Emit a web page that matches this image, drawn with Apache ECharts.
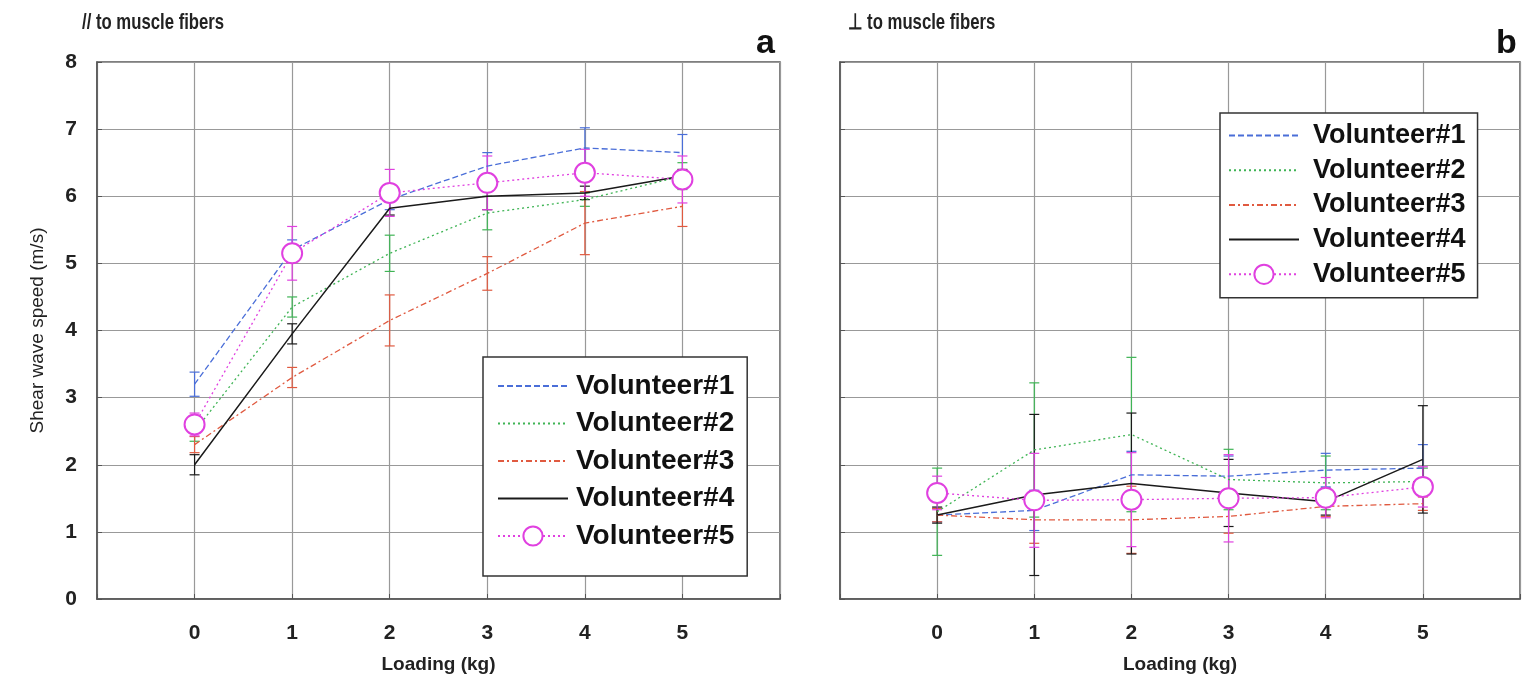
<!DOCTYPE html>
<html><head><meta charset="utf-8">
<script src="https://cdn.jsdelivr.net/npm/echarts@6/dist/echarts.min.js"></script>
<style>html,body{margin:0;padding:0;background:#fff}#c{width:1524px;height:679px}</style>
</head><body><div id="c"></div>
<script>
const loads = [0, 1, 2, 3, 4, 5];
const names = ['Volunteer#1', 'Volunteer#2', 'Volunteer#3', 'Volunteer#4', 'Volunteer#5'];
const yTicks = [0, 1, 2, 3, 4, 5, 6, 7, 8];
// Panel a: parallel to muscle fibers
const a_v1 = [3.2, 5.2, 5.95, 6.45, 6.72, 6.65];
const a_v2 = [2.5, 4.35, 5.15, 5.75, 5.95, 6.3];
const a_v3 = [2.3, 3.3, 4.15, 4.85, 5.6, 5.85];
const a_v4 = [2.0, 3.95, 5.82, 6.0, 6.05, 6.3];
const a_v5 = [2.6, 5.15, 6.05, 6.2, 6.35, 6.25];
const a_e1 = [0.18, 0.15, 0.15, 0.2, 0.3, 0.27];
const a_e2 = [0.15, 0.15, 0.27, 0.25, 0.1, 0.2];
const a_e3 = [0.12, 0.15, 0.38, 0.25, 0.47, 0.3];
const a_e4 = [0.15, 0.15, 0.1, 0.2, 0.1, 0.1];
const a_e5 = [0.17, 0.4, 0.35, 0.4, 0.35, 0.35];
// Panel b: perpendicular to muscle fibers
const b_v1 = [1.25, 1.32, 1.85, 1.83, 1.92, 1.95];
const b_v2 = [1.3, 2.22, 2.45, 1.78, 1.73, 1.75];
const b_v3 = [1.25, 1.18, 1.18, 1.23, 1.38, 1.42];
const b_v4 = [1.25, 1.55, 1.72, 1.58, 1.45, 2.08];
const b_v5 = [1.58, 1.47, 1.48, 1.5, 1.51, 1.67];
const b_e1 = [0.1, 0.3, 0.35, 0.3, 0.25, 0.35];
const b_e2 = [0.65, 1.0, 1.15, 0.45, 0.4, 0.2];
const b_e3 = [0.1, 0.35, 0.5, 0.25, 0.15, 0.1];
const b_e4 = [0.12, 1.2, 1.05, 0.5, 0.2, 0.8];
const b_e5 = [0.25, 0.7, 0.7, 0.65, 0.3, 0.3];

const colors = ['#4a6ed8', '#3fb455', '#e05a40', '#1a1a1a', '#e040e0'];
const ltypes = [[6, 3], [2, 3], [6, 3, 2, 3], 'solid', [2, 3]];
const FONT = "'Liberation Sans', Arial, sans-serif";

const panels = [
  {vals: [a_v1, a_v2, a_v3, a_v4, a_v5], errs: [a_e1, a_e2, a_e3, a_e4, a_e5]},
  {vals: [b_v1, b_v2, b_v3, b_v4, b_v5], errs: [b_e1, b_e2, b_e3, b_e4, b_e5]}
];

function errRender(color) {
  return function (params, api) {
    const x = api.value(0), y = api.value(1), e = api.value(2);
    const t = api.coord([x, y + e]), b = api.coord([x, y - e]);
    const w = 5;
    const st = {stroke: color, lineWidth: 1.2};
    return {type: 'group', children: [
      {type: 'line', shape: {x1: t[0], y1: t[1], x2: b[0], y2: b[1]}, style: st},
      {type: 'line', shape: {x1: t[0] - w, y1: t[1], x2: t[0] + w, y2: t[1]}, style: st},
      {type: 'line', shape: {x1: b[0] - w, y1: b[1], x2: b[0] + w, y2: b[1]}, style: st}
    ]};
  };
}

const series = [];
panels.forEach((p, pi) => {
  for (let k = 0; k < 5; k++) {
    series.push({
      type: 'custom', name: 'err' + pi + k, xAxisIndex: pi, yAxisIndex: pi, z: 3,
      renderItem: errRender(colors[k]),
      data: loads.map((x, i) => [x, p.vals[k][i], p.errs[k][i]]),
      silent: true
    });
  }
  for (let k = 0; k < 5; k++) {
    series.push({
      type: 'line', name: names[k], xAxisIndex: pi, yAxisIndex: pi, z: 4,
      data: loads.map((x, i) => [x, p.vals[k][i]]),
      symbol: k === 4 ? 'emptyCircle' : 'none', symbolSize: 20,
      itemStyle: {color: colors[k], borderWidth: 1.2},
      lineStyle: {color: colors[k], width: k === 3 ? 1.5 : 1.3, type: ltypes[k]},
      animation: false
    });
  }
});

function xAxis(gi, name) {
  return {
    type: 'value', gridIndex: gi, min: -1, max: 6, interval: 1,
    name: name, nameLocation: 'middle', nameGap: 56,
    nameTextStyle: {fontFamily: FONT, fontWeight: 'bold', fontSize: 19, color: '#222'},
    axisLine: {show: true, onZero: false, lineStyle: {color: '#555', width: 1.5}},
    axisTick: {show: true, inside: true, length: 5, lineStyle: {color: '#555'}},
    axisLabel: {fontFamily: FONT, fontWeight: 'bold', fontSize: 21, color: '#222', margin: 24,
      formatter: v => (v >= 0 && v <= 5) ? String(v) : ''},
    splitLine: {show: true, lineStyle: {color: '#999', width: 1.2}}
  };
}
function yAxis(gi, showLabels) {
  return {
    type: 'value', gridIndex: gi, min: 0, max: 8, interval: 1,
    name: showLabels ? 'Shear wave speed (m/s)' : '', nameLocation: 'middle', nameGap: 50,
    nameTextStyle: {fontFamily: FONT, fontSize: 19, color: '#222'},
    axisLine: {show: true, onZero: false, lineStyle: {color: '#555', width: 1.5}},
    axisTick: {show: true, inside: true, length: 5, lineStyle: {color: '#555'}},
    axisLabel: {show: showLabels, fontFamily: FONT, fontWeight: 'bold', fontSize: 21, color: '#222', margin: 20,
      formatter: v => yTicks.includes(v) ? String(v) : ''},
    splitLine: {show: true, lineStyle: {color: '#999', width: 1.2}}
  };
}
const legendData = names.map((n, k) => k < 4 ? {name: n, itemStyle: {opacity: 0}} : {name: n});
function legend(pos, gap, pad, fs, tpad) {
  return Object.assign({
    data: legendData, orient: 'vertical', itemWidth: 70, itemHeight: 24, itemGap: gap,
    padding: pad, backgroundColor: '#fff', borderColor: '#333', borderWidth: 1.5,
    borderRadius: 0, selectedMode: false, align: 'left',
    textStyle: {fontFamily: FONT, fontWeight: 'bold', fontSize: fs, lineHeight: 24, color: '#111', padding: [0, 0, 0, tpad]}
  }, pos);
}

const chart = echarts.init(document.getElementById('c'), null, {renderer: 'canvas'});
chart.setOption({
  backgroundColor: '#fff',
  animation: false,
  grid: [
    {left: 97, right: 744, top: 62, bottom: 79, show: true, borderColor: '#555', borderWidth: 1.5},
    {left: 840, right: 4, top: 62, bottom: 79, show: true, borderColor: '#555', borderWidth: 1.5}
  ],
  xAxis: [xAxis(0, 'Loading (kg)'), xAxis(1, 'Loading (kg)')],
  yAxis: [yAxis(0, true), yAxis(1, false)],
  legend: [
    legend({left: 483, top: 357}, 9.5, [15, 13, 26, 14], 28, 3),
    legend({left: 1220, top: 113}, 7.7, [9, 12, 10, 8], 27, 9)
  ],
  graphic: [
    {type: 'text', x: 82, y: 12, scaleX: 0.76, style: {text: '// to muscle fibers', fontFamily: FONT, fontWeight: 'bold', fontSize: 22, fill: '#222'}},
    {type: 'text', x: 848, y: 12, scaleX: 0.76, style: {text: '\u22A5 to muscle fibers', fontFamily: FONT, fontWeight: 'bold', fontSize: 22, fill: '#222'}},
    {type: 'text', x: 756, y: 27, style: {text: 'a', fontFamily: FONT, fontWeight: 'bold', fontSize: 34, fill: '#111'}},
    {type: 'text', x: 1496, y: 27, style: {text: 'b', fontFamily: FONT, fontWeight: 'bold', fontSize: 34, fill: '#111'}}
  ],
  series: series
});
</script></body></html>
